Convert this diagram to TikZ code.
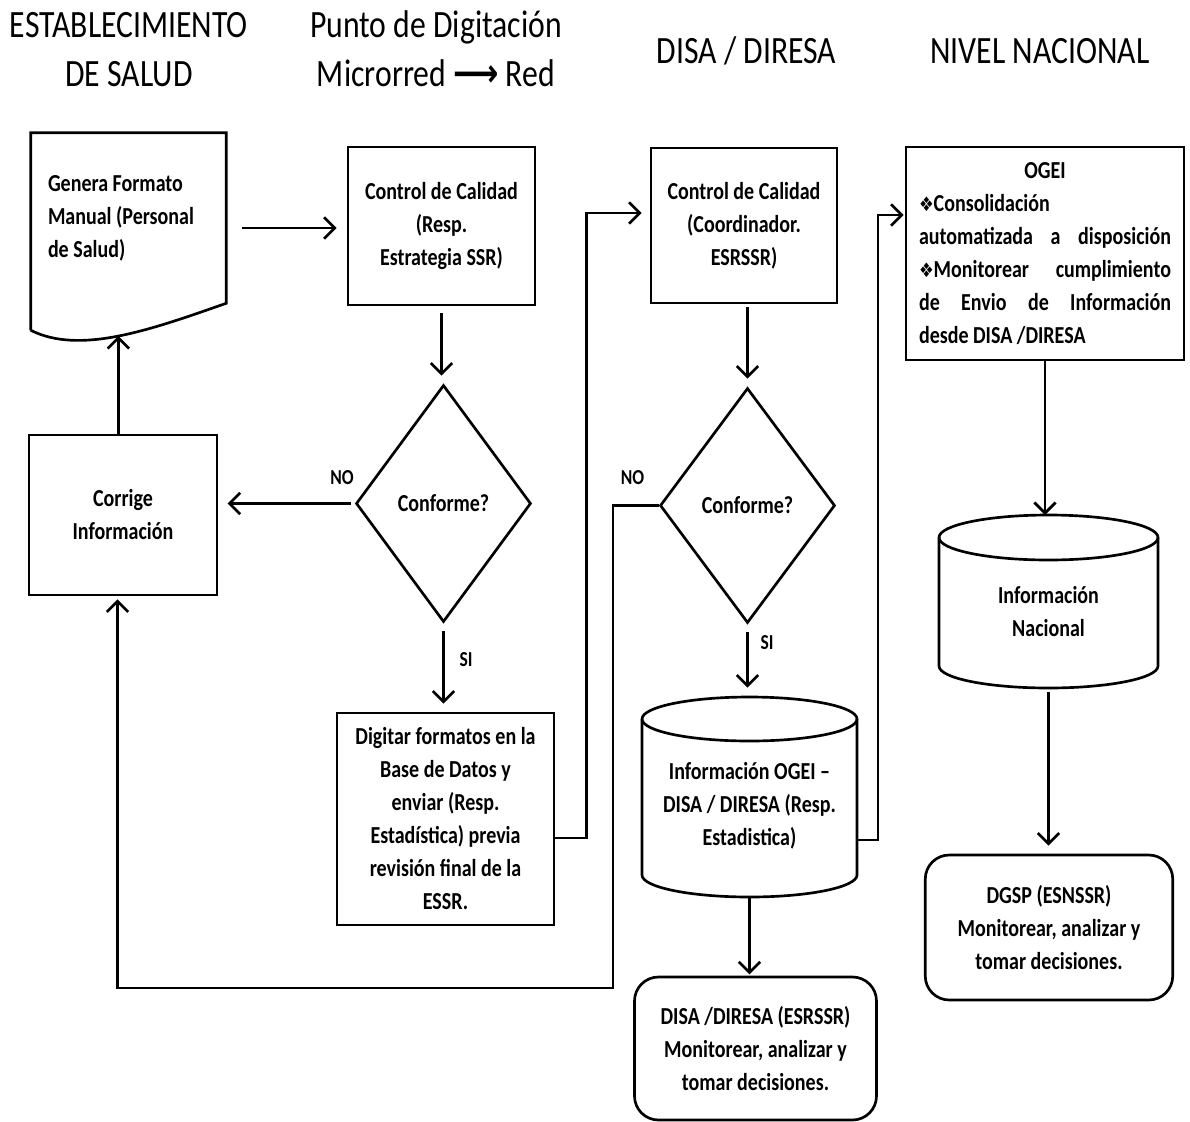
\documentclass[tikz,border=0pt]{standalone}
\usepackage{fontspec}
\setmainfont{Carlito}[FakeStretch=0.82]
\newfontfamily\dejavu{DejaVu Sans}[FakeStretch=0.82]
\usetikzlibrary{arrows.meta,shapes.geometric,calc}
\newcommand\bodyfont{\fontsize{18.3pt}{24.75pt}\selectfont\bfseries}
\newcommand\hdrfont{\fontsize{29pt}{36.75pt}\selectfont}
\newcommand\lblfont{\fontsize{16pt}{18pt}\selectfont\bfseries}
\newcommand\bul{{\dejavu\fontsize{15pt}{24.75pt}\selectfont ❖}}
\newcommand\jf{\hskip 0pt plus 1filll\relax}
\tikzset{
  ln/.style={line width=2pt},
  arr/.style={ln,-{Straight Barb[length=8pt,width=16pt]}},
  box/.style={draw,ln,rectangle,align=center,inner sep=2pt,font=\bodyfont},
  rbox/.style={box,rounded corners=18pt},
  dec/.style={draw,ln,diamond,inner sep=0pt,font=\bodyfont},
  txt/.style={align=center,inner sep=0pt,font=\bodyfont},
  hdr/.style={align=center,inner sep=0pt,font=\hdrfont},
  lbl/.style={inner sep=0pt,font=\lblfont},
}
\begin{document}
\begin{tikzpicture}[x=0.75pt,y=-0.75pt]
\useasboundingbox (0,0) rectangle (1190,1122);

% headers
\node[hdr] (h1) at (129,50) {ESTABLECIMIENTO\\DE SALUD};
\node[hdr] (h2) at (436,49) {Punto de Digitación\\Microrred {\dejavu\bfseries ⟶} Red};
\node[hdr,anchor=base] (h3) at (746.5,63) {DISA / DIRESA};
\node[hdr,anchor=base] (h4) at (1040,63) {NIVEL NACIONAL};

% document shape
\node[txt,align=flush left,minimum width=146.25pt,minimum height=127.5pt,
      text width=120.75pt,inner xsep=12.75pt] (doc) at (128.5,218)
      {Genera Formato\\Manual (Personal\\de Salud)};
\draw[ln] ($(doc.south west)+(0,27)$) -- (doc.north west) -- (doc.north east)
  -- (doc.south east) .. controls (150,330) and (80,355) .. ($(doc.south west)+(0,27)$)
  coordinate[pos=0.5] (docw);

% boxes
\node[box,minimum width=140.25pt,minimum height=118.5pt] (ctrl1) at (441.5,226)
  {Control de Calidad\\(Resp.\\Estrategia SSR)};
\node[box,minimum width=139.5pt,minimum height=116.25pt] (ctrl2) at (744,225.5)
  {Control de Calidad\\(Coordinador.\\ESRSSR)};
\node[box,minimum width=162.75pt,minimum height=159pt] (digit) at (445.5,819)
  {Digitar formatos en la\\Base de Datos y\\enviar (Resp.\\Estadística) previa\\revisión final de la\\ESSR.};
\node[box,minimum width=141pt,minimum height=120pt] (corr) at (123,515)
  {Corrige\\Información};
\node[box,align=flush left,minimum width=208.5pt,minimum height=159.75pt,
      text width=189pt,inner xsep=9.75pt] (ogei) at (1045,253.5)
  {\jf OGEI\jf\null\\
   \bul Consolidación\\
   automatizada\jf a\jf disposición\\
   \bul Monitorear\jf cumplimiento\\
   de\jf Envio\jf de\jf Información\\
   desde DISA /DIRESA};
\node[rbox,minimum width=181.5pt,minimum height=107.25pt] (disa) at (755.5,1048.5)
  {DISA /DIRESA (ESRSSR)\\Monitorear, analizar y\\tomar decisiones.};
\node[rbox,minimum width=185.6pt,minimum height=108.75pt] (dgsp) at (1049,927.5)
  {DGSP (ESNSSR)\\Monitorear, analizar y\\tomar decisiones.};

% decisions
\node[dec,minimum width=131.25pt,minimum height=177.75pt] (dia1) at (443.5,503.5) {Conforme?};
\node[dec,minimum width=131.25pt,minimum height=176.25pt] (dia2) at (747.5,505.5) {Conforme?};

% cylinders
\draw[ln] (642,719) -- (642,875) arc[start angle=180,end angle=360,x radius=80.625pt,y radius=16.5pt]
  -- (857,719) arc[start angle=0,end angle=180,x radius=80.625pt,y radius=16.5pt];
\draw[ln] (642,719) arc[start angle=180,end angle=360,x radius=80.625pt,y radius=16.5pt];
\coordinate (cyl2top) at (749.5,697);
\coordinate (cyl2bot) at (749.5,897);
\coordinate (cyl2r) at (857,840);
\node[txt] (cyl2) at (749.5,806) {Información OGEI –\\DISA / DIRESA (Resp.\\Estadistica)};

\draw[ln] (939,537.5) -- (939,666) arc[start angle=180,end angle=360,x radius=82.125pt,y radius=16.5pt]
  -- (1158,537.5) arc[start angle=0,end angle=180,x radius=82.125pt,y radius=16.875pt];
\draw[ln] (939,537.5) arc[start angle=180,end angle=360,x radius=82.125pt,y radius=16.875pt];
\coordinate (cylNtop) at (1048.5,515);
\coordinate (cylNbot) at (1048.5,688);
\node[txt] (cylN) at (1048.5,612) {Información\\Nacional};

% labels
\node[lbl] (no1) at (342,478) {NO};
\node[lbl] (no2) at (632.5,478) {NO};
\node[lbl] (si1) at (466,660) {SI};
\node[lbl] (si2) at (767,643) {SI};

% connectors
\coordinate (turn) at (613,988);
\draw[arr] ($(doc.east)+(16,10)$) -- ($(ctrl1.west)+(-10,2)$);
\draw[arr,shorten <=5pt,shorten >=6pt] (ctrl1.south) -- (ctrl1.south |- dia1.north);
\draw[arr,shorten <=3pt,shorten >=7pt] (dia1.west) -- (dia1.west -| corr.east);
\draw[arr] (docw |- corr.north) -- (docw);
\draw[arr,shorten <=6pt,shorten >=6pt] (dia1.south) -- (dia1.south |- digit.north);
\draw[arr] ($(digit.east)+(0,19)$) -- ++(31,0) |- ($(ctrl2.west)+(-8,-12.5)$);
\draw[arr,shorten <=2pt,shorten >=6pt] (dia2.north |- ctrl2.south) -- (dia2.north);
\draw[arr] (dia2.west) -| (turn) -| ($(corr.south)+(-5.5,3)$);
\draw[arr,shorten <=6pt,shorten >=7pt] (dia2.south) -- (dia2.south |- cyl2top);
\draw[arr] (cyl2r) -- ++(21,0) |- ($(ogei.west)+(-1,-38.5)$);
\draw[arr,shorten >=1pt] (cyl2bot) -- (cyl2bot |- disa.north);
\draw[arr] (ogei.south) -- (ogei.south |- cylNtop);
\draw[arr,shorten <=3pt,shorten >=6pt] (cylNbot) -- (cylNbot |- dgsp.north);
\end{tikzpicture}
\end{document}
